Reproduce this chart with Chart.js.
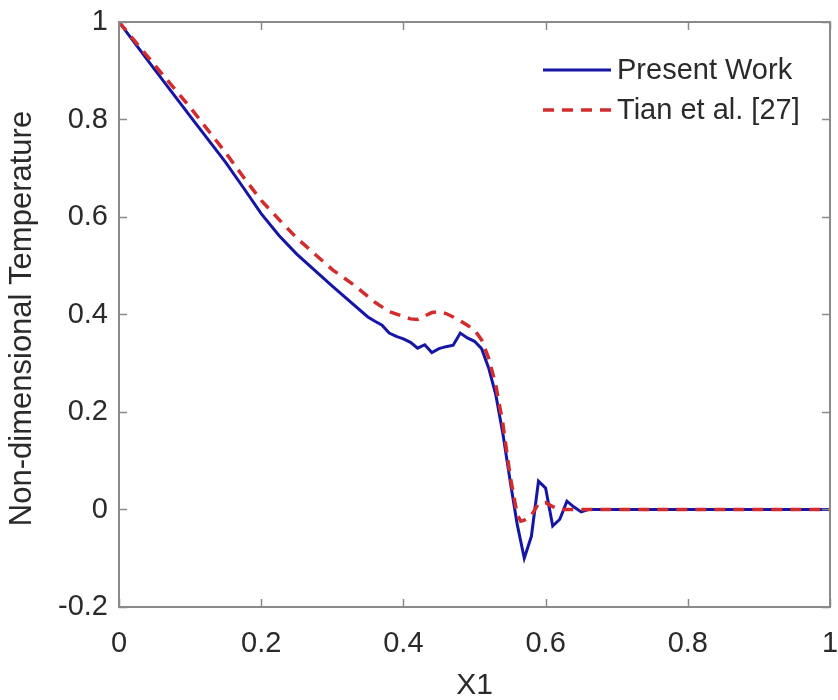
<!DOCTYPE html>
<html>
<head>
<meta charset="utf-8">
<script src="https://cdn.jsdelivr.net/npm/chart.js@4.4.1/dist/chart.umd.min.js"></script>
<style>
  html, body { margin: 0; padding: 0; background: #fff; }
  #wrap { width: 838px; height: 700px; }
</style>
</head>
<body>
<div id="wrap"><canvas id="temp_graph" width="838" height="700"></canvas></div>
<script>
// Present Work
const workX = [0, 0.05, 0.10, 0.15, 0.175, 0.20, 0.225, 0.25, 0.30, 0.35, 0.36, 0.37, 0.38, 0.39, 0.40, 0.41, 0.42, 0.43, 0.44, 0.45, 0.46, 0.47, 0.48, 0.49, 0.50, 0.51, 0.52, 0.53, 0.54, 0.55, 0.56, 0.57, 0.58, 0.59, 0.60, 0.61, 0.62, 0.63, 0.64, 0.65, 0.66, 0.70, 0.80, 0.90, 1.0];
const workY = [1.0, 0.903, 0.807, 0.712, 0.660, 0.607, 0.562, 0.524, 0.458, 0.395, 0.386, 0.378, 0.362, 0.355, 0.350, 0.343, 0.331, 0.338, 0.322, 0.330, 0.334, 0.337, 0.362, 0.352, 0.345, 0.330, 0.290, 0.235, 0.155, 0.060, -0.030, -0.100, -0.055, 0.058, 0.044, -0.034, -0.020, 0.017, 0.005, -0.005, 0, 0, 0, 0, 0];

// Tian et al. [27]
const tianX = [0, 0.05, 0.10, 0.15, 0.175, 0.20, 0.225, 0.25, 0.30, 0.33, 0.35, 0.36, 0.38, 0.40, 0.41, 0.42, 0.43, 0.44, 0.45, 0.46, 0.47, 0.48, 0.49, 0.50, 0.51, 0.52, 0.53, 0.54, 0.55, 0.56, 0.565, 0.57, 0.58, 0.59, 0.60, 0.61, 0.62, 0.70, 0.80, 0.90, 1.0];
const tianY = [1.0, 0.912, 0.825, 0.732, 0.682, 0.634, 0.595, 0.557, 0.492, 0.461, 0.437, 0.425, 0.406, 0.396, 0.391, 0.390, 0.397, 0.404, 0.406, 0.402, 0.395, 0.387, 0.378, 0.368, 0.348, 0.310, 0.255, 0.175, 0.070, -0.010, -0.024, -0.022, -0.012, 0.012, 0.014, 0.006, 0, 0, 0, 0, 0];

const xTicks = [0, 0.2, 0.4, 0.6, 0.8, 1];
const xTickLabels = ['0', '0.2', '0.4', '0.6', '0.8', '1'];
const yTicks = [-0.2, 0, 0.2, 0.4, 0.6, 0.8, 1];
const yTickLabels = ['-0.2', '0', '0.2', '0.4', '0.6', '0.8', '1'];

const seriesNames = ['Present Work', 'Tian et al. [27]'];
const xTitle = 'X1';
const yTitle = 'Non-dimensional Temperature';

const FONT = "'Liberation Sans', Arial, Helvetica, sans-serif";
const BLUE = '#1515a6';
const RED = '#d42c2c';
const AXIS = '#8a8a8a';
const TEXT = '#2a2a2a';

function pairs(xs, ys) {
  return xs.map((x, i) => ({ x: x, y: ys[i] }));
}

function labelFor(values, labels, v) {
  const i = values.findIndex(t => Math.abs(t - v) < 1e-6);
  return i >= 0 ? labels[i] : '';
}

// box, inward ticks, axis titles and legend in the MATLAB style
const matlabFrame = {
  id: 'matlabFrame',
  afterDraw(chart) {
    const ctx = chart.ctx;
    const a = chart.chartArea;
    const xs = chart.scales.x;
    const ys = chart.scales.y;
    const tl = 8;

    ctx.save();
    ctx.strokeStyle = AXIS;
    ctx.lineWidth = 2;
    ctx.setLineDash([]);
    ctx.strokeRect(a.left, a.top, a.right - a.left, a.bottom - a.top);

    ctx.beginPath();
    xTicks.forEach(v => {
      const px = Math.round(xs.getPixelForValue(v)) + 0.5;
      ctx.moveTo(px, a.bottom); ctx.lineTo(px, a.bottom - tl);
      ctx.moveTo(px, a.top); ctx.lineTo(px, a.top + tl);
    });
    yTicks.forEach(v => {
      const py = Math.round(ys.getPixelForValue(v)) + 0.5;
      ctx.moveTo(a.left, py); ctx.lineTo(a.left + tl, py);
      ctx.moveTo(a.right, py); ctx.lineTo(a.right - tl, py);
    });
    ctx.lineWidth = 1.5;
    ctx.stroke();

    // axis titles
    ctx.fillStyle = TEXT;
    ctx.font = '30px ' + FONT;
    ctx.textAlign = 'center';
    ctx.textBaseline = 'middle';
    ctx.fillText(xTitle, (a.left + a.right) / 2, 686);

    ctx.save();
    ctx.translate(22, (a.top + a.bottom) / 2 + 4);
    ctx.rotate(-Math.PI / 2);
    ctx.font = '31px ' + FONT;
    ctx.fillText(yTitle, 0, 0);
    ctx.restore();

    // legend
    ctx.fillStyle = '#fff';
    ctx.fillRect(528, 46, 278, 88);
    const rows = [
      { name: seriesNames[0], color: BLUE, dash: [], width: 3, y: 70 },
      { name: seriesNames[1], color: RED, dash: [11, 8], width: 3.5, y: 110 }
    ];
    rows.forEach(r => {
      ctx.beginPath();
      ctx.strokeStyle = r.color;
      ctx.lineWidth = r.width;
      ctx.setLineDash(r.dash);
      ctx.moveTo(543, r.y);
      ctx.lineTo(611, r.y);
      ctx.stroke();
      ctx.setLineDash([]);
      ctx.fillStyle = TEXT;
      ctx.font = '29px ' + FONT;
      ctx.textAlign = 'left';
      ctx.textBaseline = 'middle';
      ctx.fillText(r.name, 617, r.y + 1);
    });
    ctx.restore();
  }
};

const data = {
  datasets: [{
    label: seriesNames[0],
    data: pairs(workX, workY),
    borderColor: BLUE,
    borderWidth: 3,
    pointRadius: 0,
    tension: 0,
    order: 2
  }, {
    label: seriesNames[1],
    data: pairs(tianX, tianY),
    borderColor: RED,
    borderWidth: 3.5,
    borderDash: [11, 8],
    pointRadius: 0,
    tension: 0,
    order: 1
  }]
};

const confg = {
  type: 'line',
  data,
  plugins: [matlabFrame],
  options: {
    responsive: false,
    animation: false,
    layout: { padding: { top: 22, right: 8, left: 0, bottom: 0 } },
    scales: {
      x: {
        type: 'linear',
        min: 0,
        max: 1,
        afterFit: s => {
          s.height = 93;
          s.paddingLeft = 0;
          s.paddingRight = 0;
        },
        afterBuildTicks: s => { s.ticks = xTicks.map(v => ({ value: v })); },
        grid: { display: false, drawTicks: false },
        border: { display: false },
        ticks: {
          padding: 20,
          color: TEXT,
          font: { family: FONT, size: 29 },
          maxRotation: 0,
          callback: v => labelFor(xTicks, xTickLabels, v)
        }
      },
      y: {
        min: -0.2,
        max: 1,
        afterFit: s => {
          s.width = 119;
          s.paddingTop = 0;
          s.paddingBottom = 0;
        },
        afterBuildTicks: s => { s.ticks = yTicks.map(v => ({ value: v })); },
        grid: { display: false, drawTicks: false },
        border: { display: false },
        ticks: {
          padding: 11,
          color: TEXT,
          font: { family: FONT, size: 29 },
          callback: v => labelFor(yTicks, yTickLabels, v)
        }
      }
    },
    plugins: {
      legend: { display: false },
      tooltip: { enabled: false }
    }
  }
};

new Chart(document.getElementById('temp_graph'), confg);
</script>
</body>
</html>
